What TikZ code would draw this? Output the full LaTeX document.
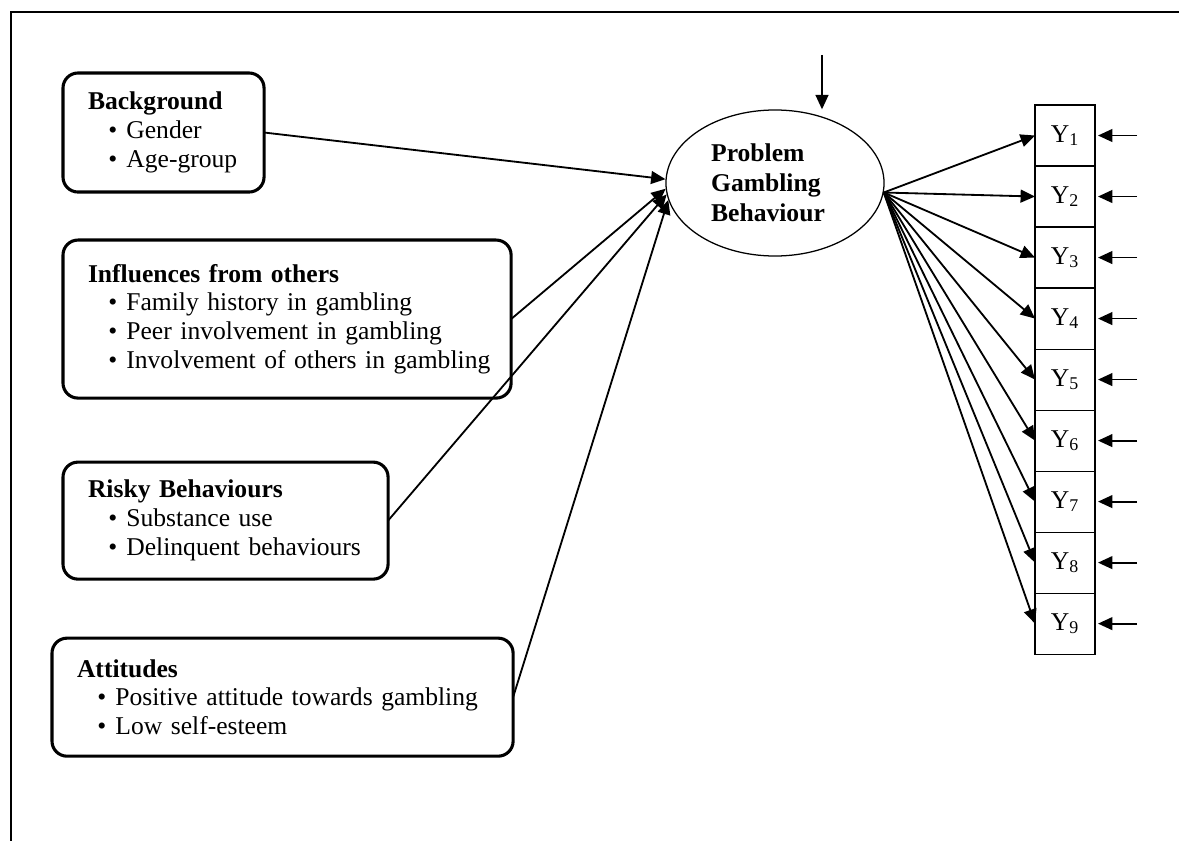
\documentclass[tikz,border=0pt]{standalone}
\usepackage{fontspec}
\setmainfont{Liberation Serif}
\usetikzlibrary{positioning, arrows.meta, shapes.geometric, calc}
\newcommand{\itm}[1]{\mbox{\hspace*{0.8em}\textbullet\hspace{0.35em}#1}}
\tikzset{
    frame_line/.style={
        line width=1.5pt
    },
    factor_box/.style={
        draw,
        rounded corners=0.375cm,
        line width=2.2pt,
        inner xsep=0.625cm,
        inner ysep=0pt,
        outer sep=0pt,
        align=left,
        anchor=north west,
        font=\fontsize{18.2}{20.5}\selectfont
    },
    latent/.style={
        ellipse,
        draw,
        line width=0.9pt,
        minimum width=5.45cm,
        minimum height=3.65cm,
        inner sep=0pt,
        align=left,
        font=\bfseries\fontsize{18.2}{21.5}\selectfont
    },
    obs/.style={
        rectangle,
        draw,
        line width=0.8pt,
        minimum width=1.5cm,
        minimum height=1.525cm,
        inner sep=0pt,
        outer sep=0pt,
        font=\fontsize{18.2}{20}\selectfont
    },
    path_edge/.style={
        -{Triangle[length=0.36cm, width=0.32cm]},
        line width=1.3pt
    }
}

\begin{document}
\begin{tikzpicture}[x=0.025cm, y=-0.025cm]
    \useasboundingbox (0,0) rectangle (1179,841);
    \draw[frame_line] (1179,12) -- (11,12) -- (11,841);

    % predictor blocks
    \node[factor_box, minimum width=5.025cm, minimum height=2.975cm, text width=3.775cm] (bg) at (63,73)
        {\textbf{Background}\\ \itm{Gender}\\ \itm{Age-group}};
    \node[factor_box, minimum width=11.2cm, minimum height=3.95cm, text width=9.95cm,
          below=1.2cm of bg.south west, anchor=north west] (inf)
        {\textbf{Influences from others}\\ \itm{Family history in gambling}\\
         \itm{Peer involvement in gambling}\\ \itm{Involvement of others in gambling}};
    \node[factor_box, minimum width=8.125cm, minimum height=2.925cm, text width=6.875cm,
          below=1.6cm of inf.south west, anchor=north west] (risk)
        {\textbf{Risky Behaviours}\\ \itm{Substance use}\\ \itm{Delinquent behaviours}};
    \node[factor_box, minimum width=11.525cm, minimum height=2.95cm, text width=10.275cm,
          below=1.475cm of risk.south west, anchor=north west, xshift=-0.275cm] (att)
        {\textbf{Attitudes}\\ \itm{Positive attitude towards gambling}\\ \itm{Low self-esteem}};

    % latent construct
    \node[latent] (pgb) at (775,183) {Problem\\Gambling\\Behaviour\hspace*{0.35cm}};
    \coordinate (dist) at (822,55);
    \draw[path_edge] (dist) -- (dist |- pgb.north);

    \draw[path_edge] (bg.east) -- (pgb.178);
    \draw[path_edge] (inf.east) -- (pgb.183);
    \draw[path_edge] (risk.east) -- (pgb.186);
    \draw[path_edge] (att.east) -- (pgb.189);

    % indicators
    \node[obs, anchor=north west] (Y1) at (1035,105) {Y\textsubscript{1}};
    \foreach \i [remember=\i as \j (initially 1)] in {2,...,9}
        \node[obs, below=0pt of Y\j] (Y\i) {Y\textsubscript{\i}};

    \coordinate (fan) at (pgb.355);
    \foreach \i in {1,...,9} {
        \coordinate (err\i) at ($(Y\i.east)+(1.05cm,0)$);
        \draw[path_edge] (fan) -- (Y\i.west);
        \draw[path_edge, shorten >=0.075cm] (err\i) -- (Y\i.east);
    }
\end{tikzpicture}
\end{document}
